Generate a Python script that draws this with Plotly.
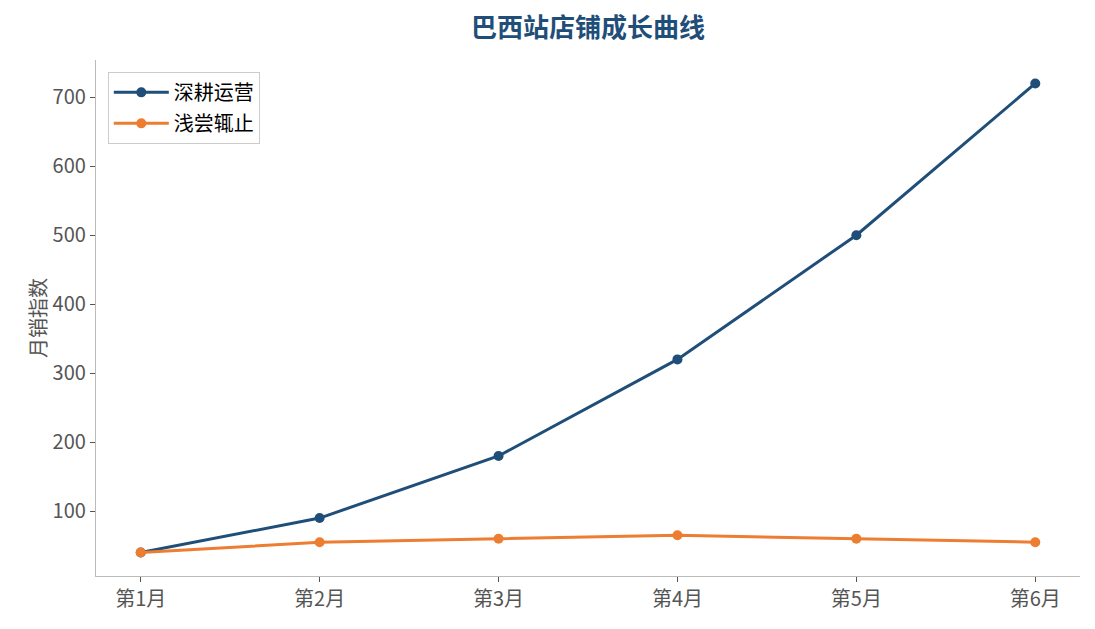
import plotly.graph_objects as go

months = ["第1月", "第2月", "第3月", "第4月", "第5月", "第6月"]
deep_ops = [40, 90, 180, 320, 500, 720]
shallow_ops = [40, 55, 60, 65, 60, 55]

font_family = "Noto Sans CJK SC, Noto Sans, sans-serif"

fig = go.Figure()
fig.add_trace(go.Scatter(x=months, y=deep_ops, name="深耕运营", mode="lines+markers",
                         legendgroup="a",
                         line=dict(color="#1f4e79", width=3), marker=dict(size=10)))
fig.add_trace(go.Scatter(x=months, y=shallow_ops, name="浅尝辄止", mode="lines+markers",
                         legendgroup="b",
                         line=dict(color="#ed7d31", width=3), marker=dict(size=10)))

# the page puts the figure 8px in from the top-left corner
fig.update_layout(
    width=1087, height=621,
    plot_bgcolor="white", paper_bgcolor="white",
    font=dict(family=font_family, size=20, color="#555555"),
    title=dict(text="<b>巴西站店铺成长曲线</b>", x=0.5, xref="paper", xanchor="center",
               y=0.968, yanchor="middle", font=dict(size=26, color="#1f4e79")),
    margin=dict(l=88, r=15, t=52, b=53),
    legend=dict(x=0.012, y=0.977, xanchor="left", yanchor="top",
                bordercolor="#cccccc", borderwidth=1, bgcolor="white",
                itemwidth=55, tracegroupgap=2,
                font=dict(size=20, color="black")),
    showlegend=True,
)
fig.update_xaxes(range=[-0.25, 5.25], showline=True, linecolor="#bbbbbb", linewidth=1.3,
                 ticks="outside", ticklen=5, tickcolor="#555555", showgrid=False, zeroline=False,
                 tickfont=dict(size=20))
fig.update_yaxes(range=[6, 754], showline=True, linecolor="#bbbbbb", linewidth=1.3,
                 ticks="outside", ticklen=5, tickcolor="#555555", showgrid=False, zeroline=False,
                 tickvals=[100, 200, 300, 400, 500, 600, 700], tickfont=dict(size=20),
                 title=dict(text="月销指数", font=dict(size=20), standoff=0))

fig.write_html("out.html")
